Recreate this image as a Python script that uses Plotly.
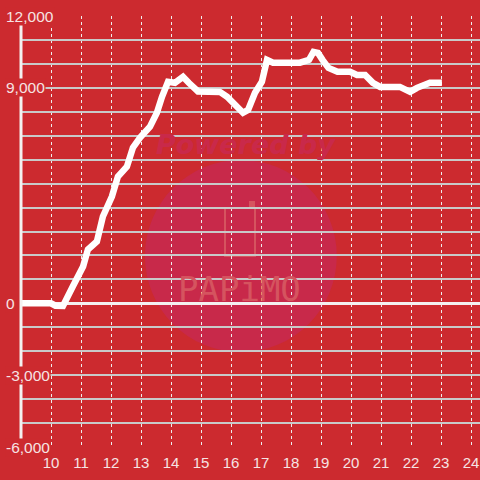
import plotly.graph_objects as go

# ---- data ----
hours = [9.0, 10.0, 10.15, 10.4, 10.73, 11.07, 11.23, 11.53, 11.73, 12.03, 12.23, 12.53,
         12.73, 12.97, 13.3, 13.53, 13.7, 13.9, 14.13, 14.4, 14.6, 14.9, 15.63, 15.87,
         16.4, 16.57, 16.8, 17.03, 17.2, 17.4, 18.3, 18.6, 18.75, 18.9, 19.05, 19.25,
         19.55, 19.97, 20.2, 20.47, 20.73, 20.97, 21.63, 21.97, 22.2, 22.63, 23.03]
values = [0, 0, -100, -110, 710, 1540, 2250, 2580, 3625, 4460, 5290, 5710,
          6500, 6920, 7375, 7960, 8625, 9250, 9210, 9460, 9200, 8850, 8830, 8625,
          7960, 8080, 8790, 9250, 10170, 10050, 10050, 10170, 10500, 10460, 10170, 9830,
          9670, 9670, 9540, 9540, 9210, 9040, 9040, 8830, 9000, 9210, 9210]

x_ticks = list(range(10, 25))
y_label_vals = [12000, 9000, 0, -3000, -6000]
y_label_text = ["12,000", "9,000", "0", "-3,000", "-6,000"]

BG = "#cc2a2f"
LABEL = "#f6e3e3"
FONT = "Liberation Sans, Arial, sans-serif"

fig = go.Figure()
fig.add_trace(go.Scatter(
    x=hours, y=values, mode="lines",
    line=dict(color="white", width=6.5),
    hoverinfo="skip", showlegend=False,
))

fig.update_layout(
    width=480, height=480,
    margin=dict(l=21, r=0, t=16, b=33),
    paper_bgcolor=BG, plot_bgcolor=BG,
    showlegend=False,
    font=dict(family=FONT, color=LABEL, size=15),
    xaxis=dict(
        range=[9, 24.3], tickvals=x_ticks, ticktext=[str(t) for t in x_ticks],
        showgrid=True, gridcolor="#eeeeee", griddash="dot", gridwidth=1,
        zeroline=False, showline=False, ticks="",
        tickfont=dict(size=15, color=LABEL, family=FONT),
        ticklabelstandoff=5, automargin=False,
    ),
    yaxis=dict(
        range=[-6000, 12000], dtick=1000, tick0=0,
        showgrid=True, gridcolor="#c9c9c9", gridwidth=1.5,
        zeroline=True, zerolinecolor="#f4f0f0", zerolinewidth=3,
        showline=False, showticklabels=False, ticks="", automargin=False,
    ),
)

# watermark
fig.add_shape(type="circle", xref="paper", yref="paper", layer="below",
              x0=0.270, x1=0.688, y0=0.220, y1=0.666,
              fillcolor="#c8294a", line=dict(width=0))
fig.add_shape(type="rect", xref="paper", yref="paper", layer="below",
              x0=(225 - 21) / 459, x1=(255 - 21) / 459,
              y0=(447 - 256) / 431, y1=(447 - 208) / 431,
              fillcolor="rgba(0,0,0,0)", line=dict(color="#d5545f", width=2))
fig.add_shape(type="rect", xref="paper", yref="paper", layer="below",
              x0=(249 - 21) / 459, x1=(255 - 21) / 459,
              y0=(447 - 208) / 431, y1=(447 - 201) / 431,
              fillcolor="#d5545f", line=dict(width=0))
fig.add_annotation(xref="paper", yref="paper", x=(239 - 21) / 459, y=(447 - 289) / 431,
                   text="PAPiMO", showarrow=False,
                   font=dict(family="DejaVu Sans Mono", size=34, color="#d5545f"))
fig.add_annotation(xref="paper", yref="paper", x=(246 - 21) / 459, y=(447 - 127) / 431,
                   text="<b><i>Powered by</i></b>", showarrow=False,
                   font=dict(family="DejaVu Sans", size=27, color="#c9294a"))

# y axis line
fig.add_shape(type="line", xref="paper", yref="y", layer="above",
              x0=0, x1=0, y0=-6000, y1=12000,
              line=dict(color="#f4f0f0", width=3))

# y tick labels with background (drawn over axis line / gridlines)
for v, t in zip(y_label_vals, y_label_text):
    fig.add_annotation(xref="paper", yref="y", x=-16 / 459, y=v, text=t,
                       xanchor="left", yanchor="middle", showarrow=False,
                       bgcolor=BG, borderpad=0,
                       font=dict(family=FONT, size=15.5, color=LABEL))

fig.write_html("out.html", config={"displayModeBar": False},
               post_script="document.body.style.margin='0px';document.body.style.overflow='hidden';")
